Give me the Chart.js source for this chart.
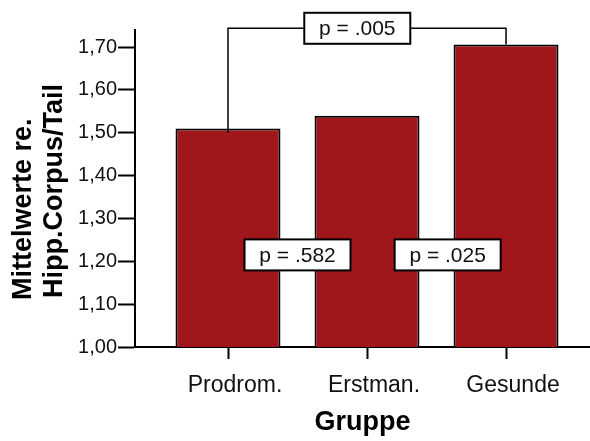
<!DOCTYPE html>
<html>
<head>
<meta charset="utf-8">
<script src="https://cdn.jsdelivr.net/npm/chart.js@4"></script>
<style>
    html, body { margin: 0; padding: 0; background: #fff; }
    #wrap { width: 590px; height: 441px; }
</style>
</head>
<body>
<div id="wrap"><canvas id="gruppe-chart"></canvas></div>
<script>
const groups = ['Prodrom.', 'Erstman.', 'Gesunde'];
const groupPos = [1, 2, 3];
const meanValues = [1.51, 1.54, 1.706];
const yTicks = [1.0, 1.1, 1.2, 1.3, 1.4, 1.5, 1.6, 1.7];
const pLabels = ['p = .005', 'p = .582', 'p = .025'];
const yTitle = ['Mittelwerte re.', 'Hipp.Corpus/Tail'];
const xTitle = 'Gruppe';

const FONT = "'Liberation Sans', Arial, sans-serif";

function drawBox(ctx, text, cx, cy) {
    const w = 106, h = 31;
    ctx.fillStyle = '#fff';
    ctx.fillRect(cx - w / 2, cy - h / 2, w, h);
    ctx.lineWidth = 2;
    ctx.strokeStyle = '#000';
    ctx.strokeRect(cx - w / 2, cy - h / 2, w, h);
    ctx.fillStyle = '#111';
    ctx.font = '21px ' + FONT;
    ctx.textAlign = 'center';
    ctx.textBaseline = 'middle';
    ctx.fillText(text, cx, cy + 1);
}

// brackets and p-value boxes
const pValuePlugin = {
    id: 'pValues',
    afterDraw(chart) {
        const ctx = chart.ctx;
        const x = chart.scales.x;
        const y = chart.scales.y;
        const top = y.getPixelForValue(1.744);
        const xa = x.getPixelForValue(groupPos[0]);
        const xc = x.getPixelForValue(groupPos[2]);
        ctx.save();
        ctx.strokeStyle = '#000';
        ctx.lineWidth = 1.5;
        ctx.beginPath();
        ctx.moveTo(xa, y.getPixelForValue(1.50));
        ctx.lineTo(xa, top);
        ctx.lineTo(xc, top);
        ctx.lineTo(xc, y.getPixelForValue(meanValues[2]));
        ctx.stroke();

        drawBox(ctx, pLabels[0], x.getPixelForValue(1.93), top);
        drawBox(ctx, pLabels[1], x.getPixelForValue(1.5), y.getPixelForValue(1.215));
        drawBox(ctx, pLabels[2], x.getPixelForValue(2.58), y.getPixelForValue(1.215));

        // y axis title, two lines, bottom aligned
        ctx.fillStyle = '#000';
        ctx.font = 'bold 27px ' + FONT;
        ctx.textAlign = 'left';
        ctx.textBaseline = 'middle';
        ctx.translate(0, 300);
        ctx.rotate(-Math.PI / 2);
        ctx.fillText(yTitle[0], 0, 24);
        ctx.fillText(yTitle[1], 2, 55);
        ctx.restore();
    }
};

const chartCanvas = document.getElementById('gruppe-chart');

new Chart(chartCanvas, {
    type: 'bar',
    data: {
        datasets: [{
            data: groupPos.map((g, i) => ({ x: g, y: meanValues[i] })),
            backgroundColor: '#a0171b',
            borderColor: '#000',
            borderWidth: 2,
            barPercentage: 0.755,
            categoryPercentage: 1
        }]
    },
    options: {
        responsive: true,
        maintainAspectRatio: false,
        animation: false,
        layout: { padding: { top: 30, left: 0, right: 0, bottom: 0 } },
        plugins: {
            legend: { display: false },
            tooltip: { enabled: false }
        },
        scales: {
            x: {
                type: 'linear',
                min: 0.331,
                max: 3.604,
                offset: false,
                afterBuildTicks: s => { s.ticks = groupPos.map(v => ({ value: v })); },
                afterFit: s => { s.height = 94; },
                grid: { offset: false, drawOnChartArea: false, tickLength: 12, tickWidth: 2, tickColor: '#000' },
                border: { color: '#000', width: 2 },
                ticks: {
                    callback: (v, i) => groups[i],
                    font: { size: 23, family: FONT },
                    color: '#111',
                    padding: 13,
                    labelOffset: 7,
                    maxRotation: 0,
                    autoSkip: false
                },
                title: {
                    display: true,
                    text: xTitle,
                    font: { size: 27, weight: 'bold', family: FONT },
                    color: '#000',
                    padding: { top: 0, bottom: 2 }
                }
            },
            y: {
                min: 1.0,
                max: 1.74,
                afterBuildTicks: s => { s.ticks = yTicks.map(v => ({ value: v })); },
                afterFit: s => { s.width = 135; },
                grid: { drawOnChartArea: false, tickLength: 17, tickWidth: 2, tickColor: '#000' },
                border: { color: '#000', width: 2 },
                ticks: {
                    callback: v => v.toFixed(2).replace('.', ','),
                    font: { size: 20, family: FONT },
                    color: '#111',
                    padding: 1
                }
            }
        }
    },
    plugins: [pValuePlugin]
});
</script>
</body>
</html>
